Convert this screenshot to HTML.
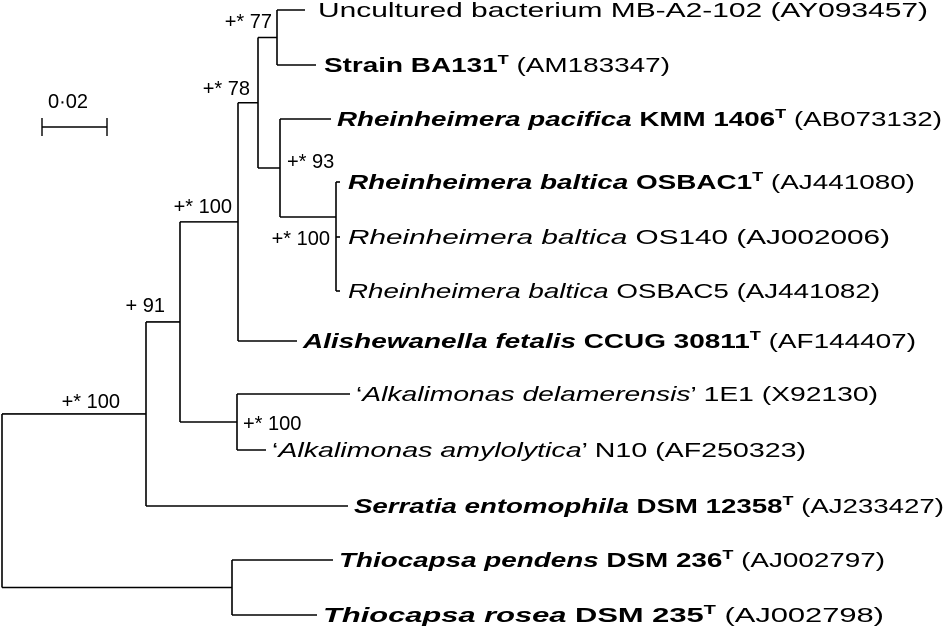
<!DOCTYPE html>
<html><head><meta charset="utf-8"><style>
html,body{margin:0;padding:0;background:#fff;}
svg{display:block;font-family:"Liberation Sans",Arial,sans-serif;}
text{fill:#000;font-size:20px;}
</style></head><body>
<svg id="tree" width="947" height="636" viewBox="0 0 947 636">
<g id="branches" stroke="#000" stroke-width="1.6" fill="none"></g>
<g id="labels"></g>
<g id="support"></g>
<g>
<line x1="42" y1="127" x2="107" y2="127" stroke="#000" stroke-width="1.6"/>
<line x1="42" y1="118" x2="42" y2="136" stroke="#000" stroke-width="1.4"/>
<line x1="107" y1="118" x2="107" y2="136" stroke="#000" stroke-width="1.4"/>
<text x="48" y="108">0·02</text>
</g>
</svg>
<script>
const leafIds = ["unc","ba131","pac","osbac1","os140","osbac5","ali","del","amy","ser","pen","ros"];
const leafY = [10,65,119,182,237,291,341,394,450,506,560,615];
const leafX = [305,316,331,340,340,340,297,350,266,348,333,317];
const leafParent = ["n77","n77","n93","nb","nb","nb","n78p","nalk","nalk","n91","nthio","nthio"];
const nodeIds = ["root","n91","n100a","n78p","n78","n77","n93","nb","nalk","nthio"];
const nodeX = [2,146,180,238,258,277,280,336,237,232];
const nodeParent = [null,"root","n91","n100a","n78p","n78","n78","n93","n100a","root"];
// explicit attachment heights where the figure is not centred (null = midpoint)
const nodeAttachY = [null,null,null,null,null,null,null,217,null,null];
const leafText = [
 [["Uncultured bacterium MB-A2-102 ",""],["(AY093457)",""]],
 [["Strain BA131","b"],["T","bs"],[" (AM183347)",""]],
 [["Rheinheimera pacifica","bi"],[" KMM 1406","b"],["T","bs"],[" (AB073132)",""]],
 [["Rheinheimera baltica","bi"],[" OSBAC1","b"],["T","bs"],[" (AJ441080)",""]],
 [["Rheinheimera baltica","i"],[" OS140 (AJ002006)",""]],
 [["Rheinheimera baltica","i"],[" OSBAC5 (AJ441082)",""]],
 [["Alishewanella fetalis","bi"],[" CCUG 30811","b"],["T","bs"],[" (AF144407)",""]],
 [["‘",""],["Alkalimonas delamerensis","i"],["’ 1E1 (X92130)",""]],
 [["‘",""],["Alkalimonas amylolytica","i"],["’ N10 (AF250323)",""]],
 [["Serratia entomophila","bi"],[" DSM 12358","b"],["T","bs"],[" (AJ233427)",""]],
 [["Thiocapsa pendens","bi"],[" DSM 236","b"],["T","bs"],[" (AJ002797)",""]],
 [["Thiocapsa rosea","bi"],[" DSM 235","b"],["T","bs"],[" (AJ002798)",""]]
];
const textStart = [318,324,337,348,348,348,303,356,272,354,339,323];
const textEnd = [928,670,942,915,890,880,916,878,806,944,885,884];
const supportText = ["+* 77","+* 78","+* 93","+* 100","+* 100","+ 91","+* 100","+* 100"];
const supportX = [272,250,287,232,330,165,120,243];
const supportY = [28,95,168,213,245,312,408,430];
const supportAnchor = ["end","end","start","end","end","end","end","start"];

const NS="http://www.w3.org/2000/svg";
const nodes={};
nodeIds.forEach((id,i)=>{nodes[id]={x:nodeX[i],parent:nodeParent[i],kids:[],fixY:nodeAttachY[i]};});
leafIds.forEach((id,i)=>{nodes[id]={x:leafX[i],y:leafY[i],parent:leafParent[i],kids:[]};});
Object.keys(nodes).forEach(id=>{const p=nodes[id].parent;if(p)nodes[p].kids.push(id);});
function yOf(id){const n=nodes[id];if(n.y!==undefined)return n.y;const ys=n.kids.map(yOf);n.min=Math.min(...ys);n.max=Math.max(...ys);n.y=(n.fixY!=null)?n.fixY:(n.min+n.max)/2;return n.y;}
yOf("root");
const br=document.getElementById("branches");
function line(x1,y1,x2,y2,name){const l=document.createElementNS(NS,"line");l.setAttribute("x1",x1);l.setAttribute("y1",y1);l.setAttribute("x2",x2);l.setAttribute("y2",y2);


br.appendChild(l);}
Object.keys(nodes).forEach(id=>{const n=nodes[id];
 if(n.kids.length){line(n.x,n.min,n.x,n.max,"node-"+id);}
 if(n.parent){const p=nodes[n.parent];line(p.x,n.y,n.x,n.y,"branch-"+id);}
});
const lg=document.getElementById("labels");
leafIds.forEach((id,i)=>{const t=document.createElementNS(NS,"text");
 t.setAttribute("x",textStart[i]);t.setAttribute("y",leafY[i]+7);
 t.setAttribute("textLength",textEnd[i]-textStart[i]);t.setAttribute("lengthAdjust","spacingAndGlyphs");
 
 
 leafText[i].forEach(([s,st])=>{const sp=document.createElementNS(NS,"tspan");sp.textContent=s;
  if(st.includes("b"))sp.setAttribute("font-weight","bold");
  if(st.includes("i"))sp.setAttribute("font-style","italic");
  if(st.includes("s")){sp.setAttribute("font-size","13");sp.setAttribute("dy","-8");}
  t.appendChild(sp);
 });
 const spans=t.querySelectorAll("tspan");spans.forEach((sp,k)=>{if(k>0&&spans[k-1].getAttribute("dy")==="-8")sp.setAttribute("dy","8");});
 lg.appendChild(t);});
const sg=document.getElementById("support");
supportText.forEach((s,i)=>{const t=document.createElementNS(NS,"text");t.textContent=s;
 t.setAttribute("x",supportX[i]);t.setAttribute("y",supportY[i]);t.setAttribute("text-anchor",supportAnchor[i]);t.setAttribute("font-size","19");
 
 
 sg.appendChild(t);});
</script>
</body></html>
